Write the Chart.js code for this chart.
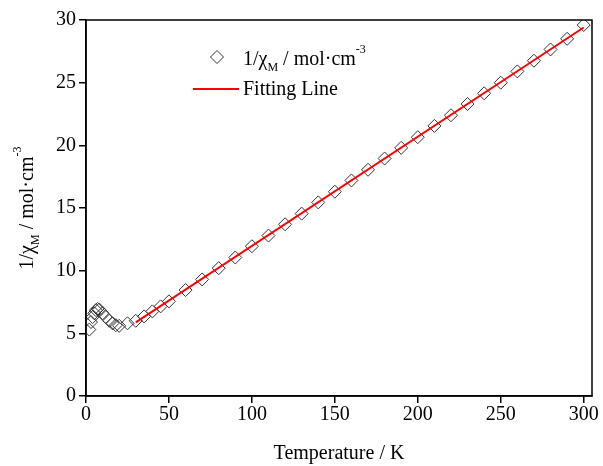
<!DOCTYPE html>
<html>
<head>
<meta charset="utf-8">
<script src="https://cdn.jsdelivr.net/npm/chart.js@4.4.0/dist/chart.umd.min.js"></script>
<style>
  html, body { margin: 0; padding: 0; background: #fff; }
  #wrap { width: 603px; height: 466px; position: relative; }
</style>
</head>
<body>
<div id="wrap"><canvas id="chart"></canvas></div>
<script>
// ── Data ──────────────────────────────────────────────────
const temps  = [2, 3, 4, 5, 6, 7, 8, 10, 12, 14, 16, 18, 20, 25, 30, 35, 40, 45, 50,
                60, 70, 80, 90, 100, 110, 120, 130, 140, 150, 160, 170, 180, 190,
                200, 210, 220, 230, 240, 250, 260, 270, 280, 290, 300];
const chiInv = [5.3, 5.9, 6.3, 6.6, 6.85, 6.95, 6.9, 6.6, 6.3, 6.0, 5.8, 5.65, 5.6, 5.8, 6.0, 6.35, 6.75, 7.15, 7.55,
                8.45, 9.3, 10.2, 11.05, 11.95, 12.8, 13.7, 14.55, 15.45, 16.3, 17.2, 18.05, 18.95, 19.8,
                20.65, 21.55, 22.4, 23.3, 24.15, 25.0, 25.9, 26.75, 27.65, 28.5, 29.6];
const fitT   = [30, 300];
const fitV   = [5.87, 29.4];
const xTicks = [0, 50, 100, 150, 200, 250, 300];
const yTicks = [0, 5, 10, 15, 20, 25, 30];

const SERIF = '"Liberation Serif", "Times New Roman", serif';
const dataLabel = [{ t: '1/χ' }, { t: 'M', sub: true }, { t: ' / mol·cm' }, { t: '-3', sup: true }];

// ── Text with sub/superscripts ────────────────────────────
function richWidth(ctx, parts, size) {
  let w = 0;
  parts.forEach(p => {
    ctx.font = `${(p.sub || p.sup) ? Math.round(size * 0.6) : size}px ${SERIF}`;
    w += ctx.measureText(p.t).width;
  });
  return w;
}
function drawRich(ctx, parts, x, y, size) {
  ctx.textBaseline = 'alphabetic';
  ctx.textAlign = 'left';
  parts.forEach(p => {
    const small = p.sub || p.sup;
    ctx.font = `${small ? Math.round(size * 0.6) : size}px ${SERIF}`;
    const dy = p.sub ? size * 0.3 : p.sup ? -size * 0.62 : 0;
    ctx.fillText(p.t, x, y + dy);
    x += ctx.measureText(p.t).width;
  });
}

function diamond(ctx, x, y, r) {
  ctx.beginPath();
  ctx.moveTo(x, y - r); ctx.lineTo(x + r, y); ctx.lineTo(x, y + r); ctx.lineTo(x - r, y);
  ctx.closePath();
  ctx.stroke();
}

// ── Frame, legend, y title ────────────────────────────────
const decor = {
  id: 'decor',
  afterDraw(chart) {
    const { ctx, chartArea: a } = chart;
    ctx.save();
    ctx.strokeStyle = '#000';
    ctx.lineWidth = 1.5;
    ctx.strokeRect(a.left, a.top, a.right - a.left, a.bottom - a.top);

    ctx.fillStyle = '#000';
    // legend
    ctx.strokeStyle = '#333';
    ctx.lineWidth = 1;
    diamond(ctx, 217, 57, 6.5);
    drawRich(ctx, dataLabel, 243, 65, 20);
    ctx.strokeStyle = '#ff0000';
    ctx.lineWidth = 2;
    ctx.beginPath(); ctx.moveTo(193, 89); ctx.lineTo(239, 89); ctx.stroke();
    drawRich(ctx, [{ t: 'Fitting Line' }], 243, 95, 20);

    // y axis title
    const w = richWidth(ctx, dataLabel, 20);
    ctx.translate(33, (a.top + a.bottom) / 2 + w / 2);
    ctx.rotate(-Math.PI / 2);
    drawRich(ctx, dataLabel, 0, 0, 20);
    ctx.restore();
  }
};

// ── Chart ─────────────────────────────────────────────────
new Chart(document.getElementById('chart'), {
  type: 'scatter',
  data: {
    datasets: [
      {
        label: 'Fitting Line',
        data: fitT.map((t, i) => ({ x: t, y: fitV[i] })),
        showLine: true,
        borderColor: '#ff0000',
        borderWidth: 2,
        pointRadius: 0,
        order: 0,
      },
      {
        label: '1/χM',
        data: temps.map((t, i) => ({ x: t, y: chiInv[i] })),
        pointStyle: 'rectRot',
        pointRadius: 6.5,
        pointBorderColor: '#333',
        pointBorderWidth: 1,
        pointBackgroundColor: 'rgba(0,0,0,0)',
        order: 1,
      }
    ]
  },
  options: {
    responsive: true,
    maintainAspectRatio: false,
    animation: false,
    layout: { padding: { left: 0, top: 20, right: 11, bottom: 0 } },
    plugins: { legend: { display: false }, tooltip: { enabled: false } },
    scales: {
      x: {
        type: 'linear',
        min: 0, max: 305,
        afterBuildTicks: s => { s.ticks = xTicks.map(v => ({ value: v })); },
        afterFit: s => { s.height = 70; },
        grid: { display: true, drawOnChartArea: false, drawTicks: true, tickLength: 7, color: '#000', lineWidth: 1.5 },
        border: { display: true, color: '#000', width: 1.5 },
        ticks: { color: '#000', font: { family: SERIF, size: 20 }, padding: 0, maxRotation: 0 },
        title: { display: true, text: 'Temperature / K', color: '#000', font: { family: SERIF, size: 20 }, padding: { top: 4, bottom: 0 } },
      },
      y: {
        type: 'linear',
        min: 0, max: 30,
        afterBuildTicks: s => { s.ticks = yTicks.map(v => ({ value: v })); },
        afterFit: s => { s.width = 86; },
        grid: { display: true, drawOnChartArea: false, drawTicks: true, tickLength: 7, color: '#000', lineWidth: 1.5 },
        border: { display: true, color: '#000', width: 1.5 },
        ticks: { color: '#000', font: { family: SERIF, size: 20 }, padding: 3 },
      }
    }
  },
  plugins: [decor]
});
</script>
</body>
</html>
